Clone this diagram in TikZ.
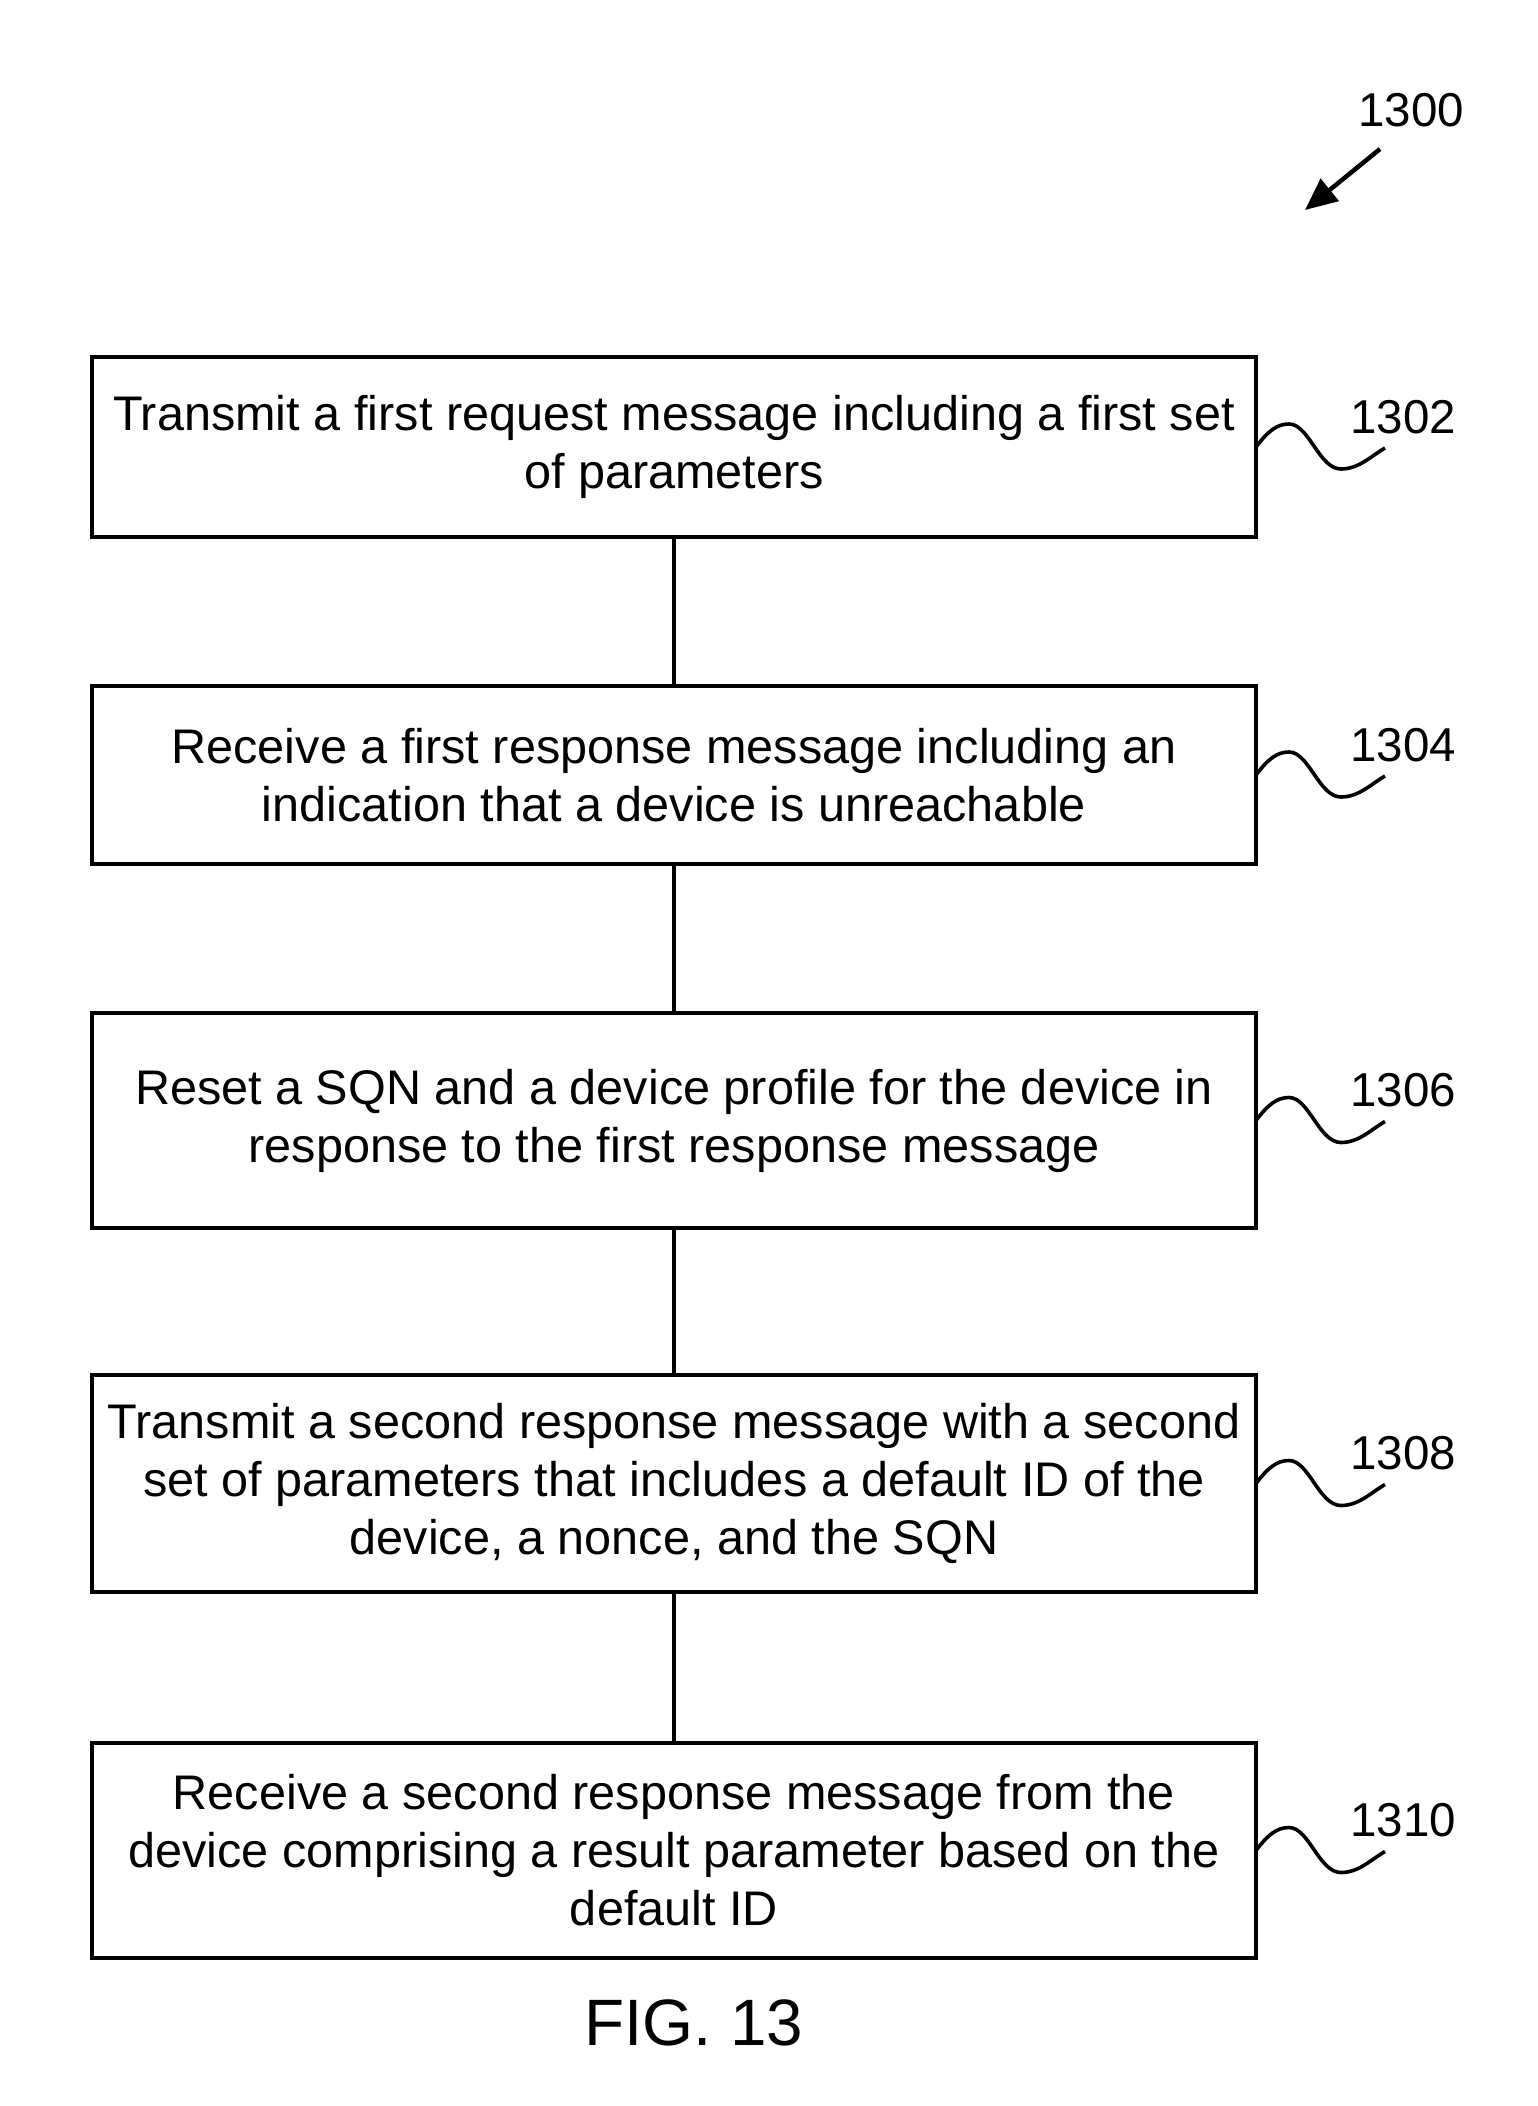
\documentclass[tikz,border=0pt]{standalone}
\usepackage{fontspec}
\setmainfont{Liberation Sans}
\usetikzlibrary{arrows.meta,calc}
\tikzset{
  stepbox/.style={draw, line width=4pt, rectangle, inner sep=0pt, outer sep=0pt,
    minimum width=1164pt, align=center, font=\fontsize{48.6}{58}\selectfont},
  link/.style={line width=4pt},
  squig/.style={line width=3.6pt},
  reflabel/.style={inner sep=0pt, font=\fontsize{47.5}{58}\selectfont}
}
\begin{document}
\begin{tikzpicture}[x=1pt,y=-1pt]
\useasboundingbox (0,0) rectangle (1538,2106);
\node[stepbox, minimum height=180pt] (b1) at (674,447)
  {Transmit a first request message including a first set\\of parameters};
\node[stepbox, minimum height=178pt] (b2) at (674,775)
  {Receive a first response message including an\\indication that a device is unreachable};
\node[stepbox, minimum height=215pt] (b3) at (674,1120.5)
  {Reset a SQN and a device profile for the device in\\response to the first response message};
\node[stepbox, minimum height=217pt] (b4) at (674,1483.5)
  {Transmit a second response message with a second\\set of parameters that includes a default ID of the\\device, a nonce, and the SQN};
\node[stepbox, minimum height=215pt] (b5) at (674,1850.5)
  {Receive a second response message from the\\device comprising a result parameter based on the\\default ID};
\draw[link] (b1) -- (b2);
\draw[link] (b2) -- (b3);
\draw[link] (b3) -- (b4);
\draw[link] (b4) -- (b5);
\foreach \b/\t in {b1/1302,b2/1304,b3/1306,b4/1308,b5/1310}{
  \node[reflabel] (l\t) at ($(\b.east)+(147,-30)$) {\t};
  \draw[squig] (\b.east) .. controls +(12,-16) and +(-12,0) .. ++(33,-23)
     .. controls +(20,0) and +(-22,0) .. ++(52,45)
     .. controls +(18,0) and +(-14,8) .. ++(44,-21);
}
\node[reflabel] (l1300) at (1411,110) {1300};
\coordinate (a0) at (1380,149);
\coordinate (a1) at (1305,210);
\draw[line width=4.5pt, -{Triangle[length=32pt,width=28pt]}] (a0) -- (a1);
\node[inner sep=0pt, font=\fontsize{65.6}{70}\selectfont] (fig) at (694,2023) {FIG. 13};
\end{tikzpicture}
\end{document}
